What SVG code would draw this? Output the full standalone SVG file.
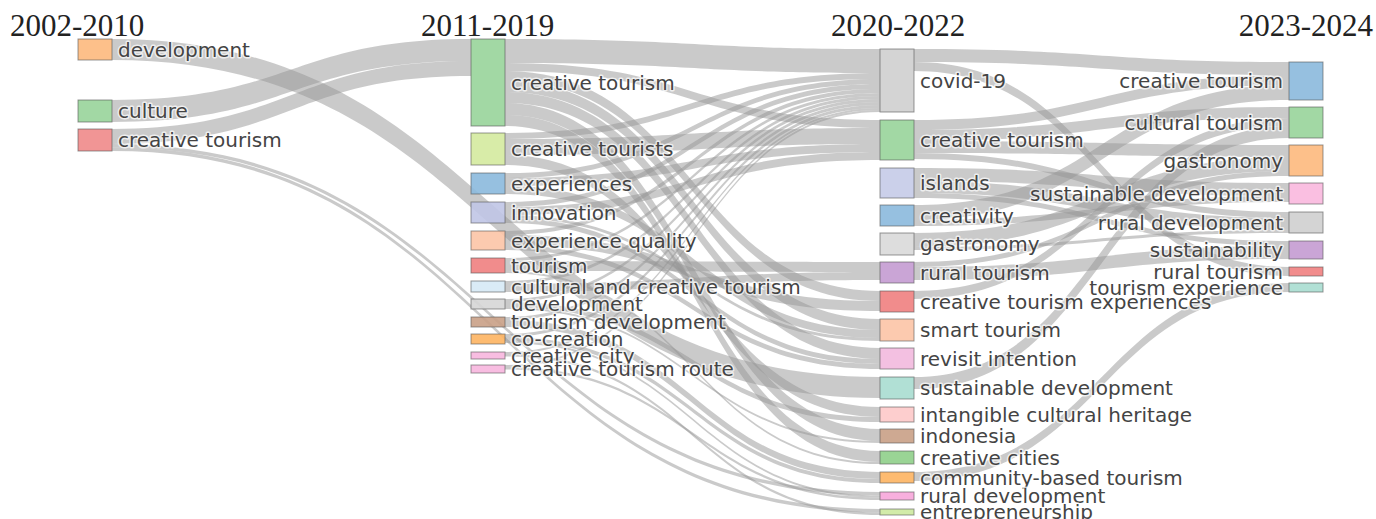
<svg xmlns="http://www.w3.org/2000/svg" width="1376" height="519" viewBox="0 0 1376 519">
<style>
.lk{fill:#969696;fill-opacity:0.5}
.nd rect{stroke:#555;stroke-opacity:0.6;stroke-width:1;fill-opacity:0.9}
.nd text{font-family:"DejaVu Sans",Verdana,sans-serif;font-size:20px;fill:#444;stroke:#fff;stroke-width:3px;stroke-opacity:0.7;paint-order:stroke;stroke-linejoin:round}
.r text{text-anchor:end}
.hd{font-family:"Liberation Serif","Times New Roman",serif;font-size:31px;fill:#222}
</style>
<rect width="1376" height="519" fill="#fff"/>
<g id="headers">
<text class="hd" x="10" y="36">2002-2010</text>
<text class="hd" x="421" y="36">2011-2019</text>
<text class="hd" x="831" y="36">2020-2022</text>
<text class="hd" x="1373" y="36" text-anchor="end">2023-2024</text>
</g>
<g id="links">
<path class="lk" d="M112 100C291.5 100 291.5 39 471 39L471 61C291.5 61 291.5 122 112 122Z"/>
<path class="lk" d="M112 129C291.5 129 291.5 61 471 61L471 76C291.5 76 291.5 144 112 144Z"/>
<path class="lk" d="M112 39C496 39 496 377 880 377L880 398C496 398 496 60 112 60Z"/>
<path class="lk" d="M112 144C496 144 496 492 880 492L880 495.5C496 495.5 496 147.5 112 147.5Z"/>
<path class="lk" d="M112 147.5C496 147.5 496 509 880 509L880 512.5C496 512.5 496 151 112 151Z"/>
<path class="lk" d="M505 39C692.5 39 692.5 49 880 49L880 73C692.5 73 692.5 63 505 63Z"/>
<path class="lk" d="M505 63C692.5 63 692.5 120 880 120L880 128C692.5 128 692.5 71 505 71Z"/>
<path class="lk" d="M505 71C692.5 71 692.5 291 880 291L880 301C692.5 301 692.5 81 505 81Z"/>
<path class="lk" d="M505 81C692.5 81 692.5 319 880 319L880 330C692.5 330 692.5 92 505 92Z"/>
<path class="lk" d="M505 92C692.5 92 692.5 348 880 348L880 359C692.5 359 692.5 103 505 103Z"/>
<path class="lk" d="M505 103C692.5 103 692.5 429 880 429L880 441C692.5 441 692.5 115 505 115Z"/>
<path class="lk" d="M505 115C692.5 115 692.5 451 880 451L880 462C692.5 462 692.5 126 505 126Z"/>
<path class="lk" d="M505 133C692.5 133 692.5 73 880 73L880 79C692.5 79 692.5 139 505 139Z"/>
<path class="lk" d="M505 139C692.5 139 692.5 128 880 128L880 144C692.5 144 692.5 155 505 155Z"/>
<path class="lk" d="M505 155C692.5 155 692.5 407 880 407L880 417C692.5 417 692.5 165 505 165Z"/>
<path class="lk" d="M505 173C692.5 173 692.5 79 880 79L880 84C692.5 84 692.5 178 505 178Z"/>
<path class="lk" d="M505 178C692.5 178 692.5 144 880 144L880 152C692.5 152 692.5 186 505 186Z"/>
<path class="lk" d="M505 186C692.5 186 692.5 330 880 330L880 338C692.5 338 692.5 194 505 194Z"/>
<path class="lk" d="M505 202C692.5 202 692.5 84 880 84L880 89C692.5 89 692.5 207 505 207Z"/>
<path class="lk" d="M505 207C692.5 207 692.5 152 880 152L880 160C692.5 160 692.5 215 505 215Z"/>
<path class="lk" d="M505 215C692.5 215 692.5 338 880 338L880 341C692.5 341 692.5 218 505 218Z"/>
<path class="lk" d="M505 218C692.5 218 692.5 359 880 359L880 364C692.5 364 692.5 223 505 223Z"/>
<path class="lk" d="M505 231C692.5 231 692.5 89 880 89L880 93C692.5 93 692.5 235 505 235Z"/>
<path class="lk" d="M505 235C692.5 235 692.5 301 880 301L880 311C692.5 311 692.5 245 505 245Z"/>
<path class="lk" d="M505 245C692.5 245 692.5 364 880 364L880 369C692.5 369 692.5 250 505 250Z"/>
<path class="lk" d="M505 258C692.5 258 692.5 93 880 93L880 96C692.5 96 692.5 261 505 261Z"/>
<path class="lk" d="M505 261C692.5 261 692.5 262 880 262L880 272C692.5 272 692.5 271 505 271Z"/>
<path class="lk" d="M505 271C692.5 271 692.5 462 880 462L880 464C692.5 464 692.5 273 505 273Z"/>
<path class="lk" d="M505 281C692.5 281 692.5 96 880 96L880 99C692.5 99 692.5 284 505 284Z"/>
<path class="lk" d="M505 284C692.5 284 692.5 272 880 272L880 280C692.5 280 692.5 292 505 292Z"/>
<path class="lk" d="M505 299C692.5 299 692.5 99 880 99L880 102C692.5 102 692.5 302 505 302Z"/>
<path class="lk" d="M505 302C692.5 302 692.5 417 880 417L880 422C692.5 422 692.5 307 505 307Z"/>
<path class="lk" d="M505 307C692.5 307 692.5 441 880 441L880 443C692.5 443 692.5 309 505 309Z"/>
<path class="lk" d="M505 317C692.5 317 692.5 102 880 102L880 105C692.5 105 692.5 320 505 320Z"/>
<path class="lk" d="M505 320C692.5 320 692.5 472 880 472L880 479C692.5 479 692.5 327 505 327Z"/>
<path class="lk" d="M505 334C692.5 334 692.5 105 880 105L880 108C692.5 108 692.5 337 505 337Z"/>
<path class="lk" d="M505 337C692.5 337 692.5 479 880 479L880 483C692.5 483 692.5 341 505 341Z"/>
<path class="lk" d="M505 341C692.5 341 692.5 495.5 880 495.5L880 497.5C692.5 497.5 692.5 343 505 343Z"/>
<path class="lk" d="M505 352C692.5 352 692.5 108 880 108L880 110C692.5 110 692.5 354 505 354Z"/>
<path class="lk" d="M505 354C692.5 354 692.5 512.5 880 512.5L880 515C692.5 515 692.5 356.5 505 356.5Z"/>
<path class="lk" d="M505 365C692.5 365 692.5 110 880 110L880 112C692.5 112 692.5 367 505 367Z"/>
<path class="lk" d="M505 367C692.5 367 692.5 497.5 880 497.5L880 500C692.5 500 692.5 369.5 505 369.5Z"/>
<path class="lk" d="M914 49C1101.5 49 1101.5 62 1289 62L1289 75C1101.5 75 1101.5 62 914 62Z"/>
<path class="lk" d="M914 62C1101.5 62 1101.5 267 1289 267L1289 276C1101.5 276 1101.5 71 914 71Z"/>
<path class="lk" d="M914 120C1101.5 120 1101.5 75 1289 75L1289 85C1101.5 85 1101.5 130 914 130Z"/>
<path class="lk" d="M914 130C1101.5 130 1101.5 107 1289 107L1289 118C1101.5 118 1101.5 141 914 141Z"/>
<path class="lk" d="M914 141C1101.5 141 1101.5 145 1289 145L1289 157C1101.5 157 1101.5 153 914 153Z"/>
<path class="lk" d="M914 153C1101.5 153 1101.5 212 1289 212L1289 218C1101.5 218 1101.5 159 914 159Z"/>
<path class="lk" d="M914 168C1101.5 168 1101.5 183 1289 183L1289 196C1101.5 196 1101.5 181 914 181Z"/>
<path class="lk" d="M914 181C1101.5 181 1101.5 218 1289 218L1289 230C1101.5 230 1101.5 193 914 193Z"/>
<path class="lk" d="M914 193C1101.5 193 1101.5 241 1289 241L1289 246C1101.5 246 1101.5 198 914 198Z"/>
<path class="lk" d="M914 205C1101.5 205 1101.5 85 1289 85L1289 100C1101.5 100 1101.5 220 914 220Z"/>
<path class="lk" d="M914 220C1101.5 220 1101.5 196 1289 196L1289 202C1101.5 202 1101.5 226 914 226Z"/>
<path class="lk" d="M914 233C1101.5 233 1101.5 157 1289 157L1289 171C1101.5 171 1101.5 247 914 247Z"/>
<path class="lk" d="M914 247C1101.5 247 1101.5 230 1289 230L1289 233C1101.5 233 1101.5 250 914 250Z"/>
<path class="lk" d="M914 262C1101.5 262 1101.5 171 1289 171L1289 176C1101.5 176 1101.5 267 914 267Z"/>
<path class="lk" d="M914 267C1101.5 267 1101.5 246 1289 246L1289 259C1101.5 259 1101.5 280 914 280Z"/>
<path class="lk" d="M914 291C1101.5 291 1101.5 118 1289 118L1289 126C1101.5 126 1101.5 299 914 299Z"/>
<path class="lk" d="M914 377C1101.5 377 1101.5 126 1289 126L1289 138C1101.5 138 1101.5 389 914 389Z"/>
<path class="lk" d="M914 472C1101.5 472 1101.5 283 1289 283L1289 292C1101.5 292 1101.5 481 914 481Z"/>
</g>
<g id="c1-development" class="nd"><rect x="78" y="39" width="34" height="21" fill="#fdb97d"/><text x="118" y="57">development</text></g>
<g id="c1-culture" class="nd"><rect x="78" y="100" width="34" height="22" fill="#98d49a"/><text x="118" y="118">culture</text></g>
<g id="c1-creative-tourism" class="nd"><rect x="78" y="129" width="34" height="22" fill="#f08a8a"/><text x="118" y="147">creative tourism</text></g>

<g id="c2-creative-tourism" class="nd"><rect x="471" y="39" width="34" height="87" fill="#98d49a"/><text x="511" y="89.5">creative tourism</text></g>
<g id="c2-creative-tourists" class="nd"><rect x="471" y="133" width="34" height="32" fill="#d4ea9e"/><text x="511" y="156">creative tourists</text></g>
<g id="c2-experiences" class="nd"><rect x="471" y="173" width="34" height="21" fill="#8bb9dd"/><text x="511" y="190.5">experiences</text></g>
<g id="c2-innovation" class="nd"><rect x="471" y="202" width="34" height="21" fill="#c0c5e5"/><text x="511" y="219.5">innovation</text></g>
<g id="c2-experience-quality" class="nd"><rect x="471" y="231" width="34" height="19" fill="#fcc4a6"/><text x="511" y="247.5">experience quality</text></g>
<g id="c2-tourism" class="nd"><rect x="471" y="258" width="34" height="15" fill="#ef8080"/><text x="511" y="272.5">tourism</text></g>
<g id="c2-cultural-and-creative-tourism" class="nd"><rect x="471" y="281" width="34" height="11" fill="#d6e9f5"/><text x="511" y="293.5">cultural and creative tourism</text></g>
<g id="c2-development" class="nd"><rect x="471" y="299" width="34" height="10" fill="#d6d6d6"/><text x="511" y="311">development</text></g>
<g id="c2-tourism-development" class="nd"><rect x="471" y="317" width="34" height="10" fill="#c9a086"/><text x="511" y="329">tourism development</text></g>
<g id="c2-co-creation" class="nd"><rect x="471" y="334" width="34" height="10" fill="#fdb462"/><text x="511" y="346">co-creation</text></g>
<g id="c2-creative-city" class="nd"><rect x="471" y="352" width="34" height="7" fill="#f7b6de"/><text x="511" y="362.5">creative city</text></g>
<g id="c2-creative-tourism-route" class="nd"><rect x="471" y="365" width="34" height="8" fill="#f7b6de"/><text x="511" y="376">creative tourism route</text></g>

<g id="c3-covid-19" class="nd"><rect x="880" y="49" width="34" height="63" fill="#cfcfcf"/><text x="920" y="87.5">covid-19</text></g>
<g id="c3-creative-tourism" class="nd"><rect x="880" y="120" width="34" height="40" fill="#98d49a"/><text x="920" y="147">creative tourism</text></g>
<g id="c3-islands" class="nd"><rect x="880" y="168" width="34" height="30" fill="#c5cbe8"/><text x="920" y="190">islands</text></g>
<g id="c3-creativity" class="nd"><rect x="880" y="205" width="34" height="21" fill="#8bb9dd"/><text x="920" y="222.5">creativity</text></g>
<g id="c3-gastronomy" class="nd"><rect x="880" y="233" width="34" height="22" fill="#d9d9d9"/><text x="920" y="251">gastronomy</text></g>
<g id="c3-rural-tourism" class="nd"><rect x="880" y="262" width="34" height="21" fill="#c49bd1"/><text x="920" y="279.5">rural tourism</text></g>
<g id="c3-creative-tourism-experiences" class="nd"><rect x="880" y="291" width="34" height="21" fill="#ef8080"/><text x="920" y="308.5">creative tourism experiences</text></g>
<g id="c3-smart-tourism" class="nd"><rect x="880" y="319" width="34" height="22" fill="#fcc4a6"/><text x="920" y="337">smart tourism</text></g>
<g id="c3-revisit-intention" class="nd"><rect x="880" y="348" width="34" height="21" fill="#f2b9de"/><text x="920" y="365.5">revisit intention</text></g>
<g id="c3-sustainable-development" class="nd"><rect x="880" y="377" width="34" height="22" fill="#a9ddd0"/><text x="920" y="395">sustainable development</text></g>
<g id="c3-intangible-cultural-heritage" class="nd"><rect x="880" y="407" width="34" height="15" fill="#fdc9c9"/><text x="920" y="421.5">intangible cultural heritage</text></g>
<g id="c3-indonesia" class="nd"><rect x="880" y="429" width="34" height="14" fill="#c9a086"/><text x="920" y="443">indonesia</text></g>
<g id="c3-creative-cities" class="nd"><rect x="880" y="451" width="34" height="13" fill="#8fcf8a"/><text x="920" y="464.5">creative cities</text></g>
<g id="c3-community-based-tourism" class="nd"><rect x="880" y="472" width="34" height="11" fill="#fdb462"/><text x="920" y="484.5">community-based tourism</text></g>
<g id="c3-rural-development" class="nd"><rect x="880" y="492" width="34" height="8" fill="#f7a6da"/><text x="920" y="503">rural development</text></g>
<g id="c3-entrepreneurship" class="nd"><rect x="880" y="509" width="34" height="6" fill="#cde9a0"/><text x="920" y="519">entrepreneurship</text></g>

<g id="c4-creative-tourism" class="nd r"><rect x="1289" y="62" width="34" height="38" fill="#8bb9dd"/><text x="1283" y="88">creative tourism</text></g>
<g id="c4-cultural-tourism" class="nd r"><rect x="1289" y="107" width="34" height="31" fill="#98d49a"/><text x="1283" y="129.5">cultural tourism</text></g>
<g id="c4-gastronomy" class="nd r"><rect x="1289" y="145" width="34" height="31" fill="#fdb97d"/><text x="1283" y="167.5">gastronomy</text></g>
<g id="c4-sustainable-development" class="nd r"><rect x="1289" y="183" width="34" height="21" fill="#f9b8de"/><text x="1283" y="200.5">sustainable development</text></g>
<g id="c4-rural-development" class="nd r"><rect x="1289" y="212" width="34" height="21" fill="#cfcfcf"/><text x="1283" y="229.5">rural development</text></g>
<g id="c4-sustainability" class="nd r"><rect x="1289" y="241" width="34" height="18" fill="#c49bd1"/><text x="1283" y="257">sustainability</text></g>
<g id="c4-rural-tourism" class="nd r"><rect x="1289" y="267" width="34" height="9" fill="#ef8080"/><text x="1283" y="278.5">rural tourism</text></g>
<g id="c4-tourism-experience" class="nd r"><rect x="1289" y="283" width="34" height="9" fill="#a9ddd0"/><text x="1283" y="294.5">tourism experience</text></g>
</svg>
